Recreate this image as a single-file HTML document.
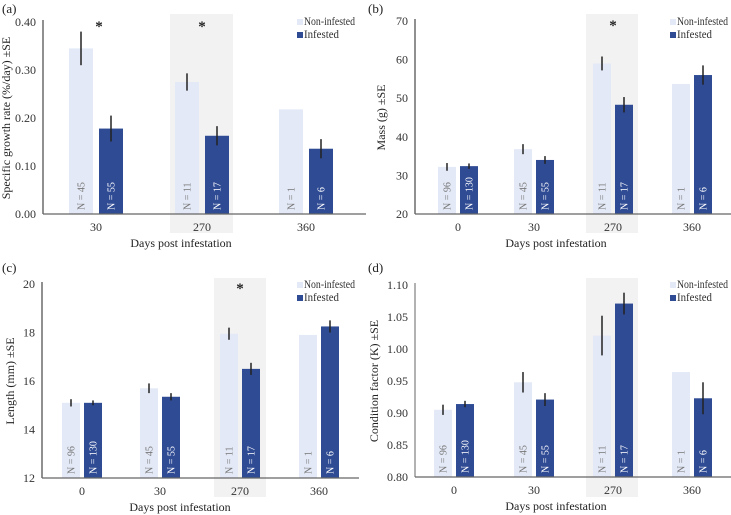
<!DOCTYPE html>
<html><head><meta charset="utf-8">
<style>
html,body{margin:0;padding:0;background:#fff;}
svg{display:block;font-family:"Liberation Serif",serif;}
</style></head>
<body>
<svg id="chart" width="731" height="515" viewBox="0 0 731 515" xmlns="http://www.w3.org/2000/svg"></svg>
<script>
// ---- data ----
const catsA = ["30","270","360"];
const nonA = [0.345,0.275,0.218];
const nonAErr = [0.035,0.018,0];
const infA = [0.178,0.163,0.136];
const infAErr = [0.027,0.02,0.02];
const nA_non = ["N = 45","N = 11","N = 1"];
const nA_inf = ["N = 55","N = 17","N = 6"];
const ticksA = ["0.00","0.10","0.20","0.30","0.40"];

const cats4 = ["0","30","270","360"];
const nNon4 = ["N = 96","N = 45","N = 11","N = 1"];
const nInf4 = ["N = 130","N = 55","N = 17","N = 6"];

const nonB = [32.2,36.8,59.0,53.7];
const nonBErr = [1.0,1.3,1.8,0];
const infB = [32.4,34.0,48.3,56.0];
const infBErr = [0.7,1.0,2.0,2.5];
const ticksB = ["20","30","40","50","60","70"];

const nonC = [15.1,15.7,17.95,17.9];
const nonCErr = [0.15,0.2,0.25,0];
const infC = [15.1,15.35,16.5,18.25];
const infCErr = [0.1,0.15,0.25,0.25];
const ticksC = ["12","14","16","18","20"];

const nonD = [0.905,0.948,1.021,0.964];
const nonDErr = [0.008,0.016,0.031,0];
const infD = [0.914,0.921,1.071,0.923];
const infDErr = [0.005,0.01,0.017,0.025];
const ticksD = ["0.80","0.85","0.90","0.95","1.00","1.05","1.10"];

const svg = document.getElementById('chart');
const NS = 'http://www.w3.org/2000/svg';
function mk(tag, attrs, parent){
  const e = document.createElementNS(NS, tag);
  for (const k in attrs) e.setAttribute(k, attrs[k]);
  (parent||svg).appendChild(e);
  return e;
}

function panel(cfg){
  const g = mk('g', {});
  
  
  const min = parseFloat(cfg.ticks[0]), max = parseFloat(cfg.ticks[cfg.ticks.length-1]);
  const y = v => cfg.base - (v - min) / (max - min) * (cfg.base - cfg.top);
  const band = mk('rect', {x: cfg.bandX, y: cfg.bandY0, width: cfg.bandW, height: cfg.bandY1 - cfg.bandY0, fill: '#f2f2f2'}, g);
  
  
  cfg.ticks.forEach(t => {
    const tx = mk('text', {x: cfg.ax - 7, y: y(parseFloat(t)) + 4, 'text-anchor': 'end', 'font-size': 12, fill: '#333'}, g);
    tx.textContent = t;
    
    
  });
  cfg.cats.forEach((c, i) => {
    const cx = cfg.centers[i];
    [[cfg.non, cfg.nonErr, cfg.nNon, -1, '#e3e9f6', '#777'], [cfg.inf, cfg.infErr, cfg.nInf, 1, '#2f4b94', '#fff']].forEach(([vals, errs, ns, s, col, tcol], k) => {
      const bx = cx + s * cfg.off - cfg.bw / 2;
      const v = vals[i];
      const r = mk('rect', {x: bx, y: y(v), width: cfg.bw, height: cfg.base - y(v), fill: col}, g);
      
      
      if (errs[i] > 0) {
        const l = mk('line', {x1: bx + cfg.bw / 2, x2: bx + cfg.bw / 2, y1: y(v - errs[i]), y2: y(v + errs[i]), stroke: '#222', 'stroke-width': 1.5}, g);
        
        
      }
      const tx = bx + cfg.bw / 2 + 3.5, ty = cfg.base - 4;
      const nt = mk('text', {x: tx, y: ty, transform: `rotate(-90 ${tx} ${ty})`, 'font-size': 10, fill: tcol}, g);
      nt.textContent = ns[i];
      
      
    });
    const xl = mk('text', {x: cx, y: cfg.base + 17, 'text-anchor': 'middle', 'font-size': 12, fill: '#333'}, g);
    xl.textContent = c;
    
    
  });
  const ya = mk('line', {x1: cfg.ax, x2: cfg.ax, y1: cfg.top - 2, y2: cfg.base, stroke: cfg.yAxisCol, 'stroke-width': 1}, g);
  
  
  const xa = mk('line', {x1: cfg.ax, x2: cfg.right, y1: cfg.base, y2: cfg.base, stroke: '#666', 'stroke-width': 1.2}, g);
  
  
  cfg.stars.forEach(sx => {
    const st = mk('text', {x: sx, y: cfg.top + 9, 'text-anchor': 'middle', 'font-size': 15, 'font-weight': 'bold', fill: '#222'}, g);
    st.textContent = '*';
    
    
  });
  const xt = mk('text', {x: cfg.xtX, y: cfg.base + 33, 'text-anchor': 'middle', 'font-size': 12, fill: '#222'}, g);
  xt.textContent = 'Days post infestation';
  
  
  const ytx = cfg.ytX, yty = (cfg.top + cfg.base) / 2;
  const yt = mk('text', {x: ytx, y: yty, transform: `rotate(-90 ${ytx} ${yty})`, 'text-anchor': 'middle', 'font-size': 12, fill: '#222'}, g);
  yt.textContent = cfg.yTitle;
  
  
  const pl = mk('text', {x: cfg.plX, y: cfg.plY, 'font-size': 13, fill: '#222'}, g);
  pl.textContent = '(' + cfg.id + ')';
  
  
  [['Non-infested', '#e3e9f6', 51], ['Infested', '#2f4b94', 35]].forEach(([name, col, w], k) => {
    const ly = cfg.legY + k * 13;
    const sq = mk('rect', {x: cfg.legX, y: ly - 6, width: 6, height: 6, fill: col}, g);
    
    
    const lt = mk('text', {x: cfg.legX + 7, y: ly, 'font-size': 11.5, fill: '#333', textLength: w, lengthAdjust: 'spacingAndGlyphs'}, g);
    lt.textContent = name;
    
    
  });
}

panel({id:'a', cats:catsA, non:nonA, nonErr:nonAErr, inf:infA, infErr:infAErr, nNon:nA_non, nInf:nA_inf, ticks:ticksA,
  ax:43, right:366, top:22, base:214, centers:[96,202,306], off:15, bw:24, bandX:170, bandW:63, bandY0:14, bandY1:233,
  stars:[99,202], xtX:181, ytX:10, yTitle:'Specific growth rate (%/day) ±SE', plX:2, plY:13, legX:297, legY:25, yAxisCol:'#222'});
panel({id:'b', cats:cats4, non:nonB, nonErr:nonBErr, inf:infB, infErr:infBErr, nNon:nNon4, nInf:nInf4, ticks:ticksB,
  ax:415, right:731, top:21, base:214, centers:[458,534,613,692], off:11, bw:18, bandX:586, bandW:52, bandY0:14, bandY1:233,
  stars:[613], xtX:556, ytX:385, yTitle:'Mass (g) ±SE', plX:368, plY:13, legX:670, legY:25, yAxisCol:'#222'});
panel({id:'c', cats:cats4, non:nonC, nonErr:nonCErr, inf:infC, infErr:infCErr, nNon:nNon4, nInf:nInf4, ticks:ticksC,
  ax:42, right:359, top:284, base:478, centers:[82,160,240,319], off:11, bw:18, bandX:214, bandW:52, bandY0:278, bandY1:497,
  stars:[240], xtX:180, ytX:14, yTitle:'Length (mm) ±SE', plX:2, plY:272, legX:297, legY:288, yAxisCol:'#222'});
panel({id:'d', cats:cats4, non:nonD, nonErr:nonDErr, inf:infD, infErr:infDErr, nNon:nNon4, nInf:nInf4, ticks:ticksD,
  ax:415, right:731, top:285, base:477, centers:[454,534,613,692], off:11, bw:18, bandX:586, bandW:52, bandY0:278, bandY1:497,
  stars:[], xtX:556, ytX:378, yTitle:'Condition factor (K) ±SE', plX:368, plY:272, legX:670, legY:288, yAxisCol:'#666'});
</script>
</body></html>
